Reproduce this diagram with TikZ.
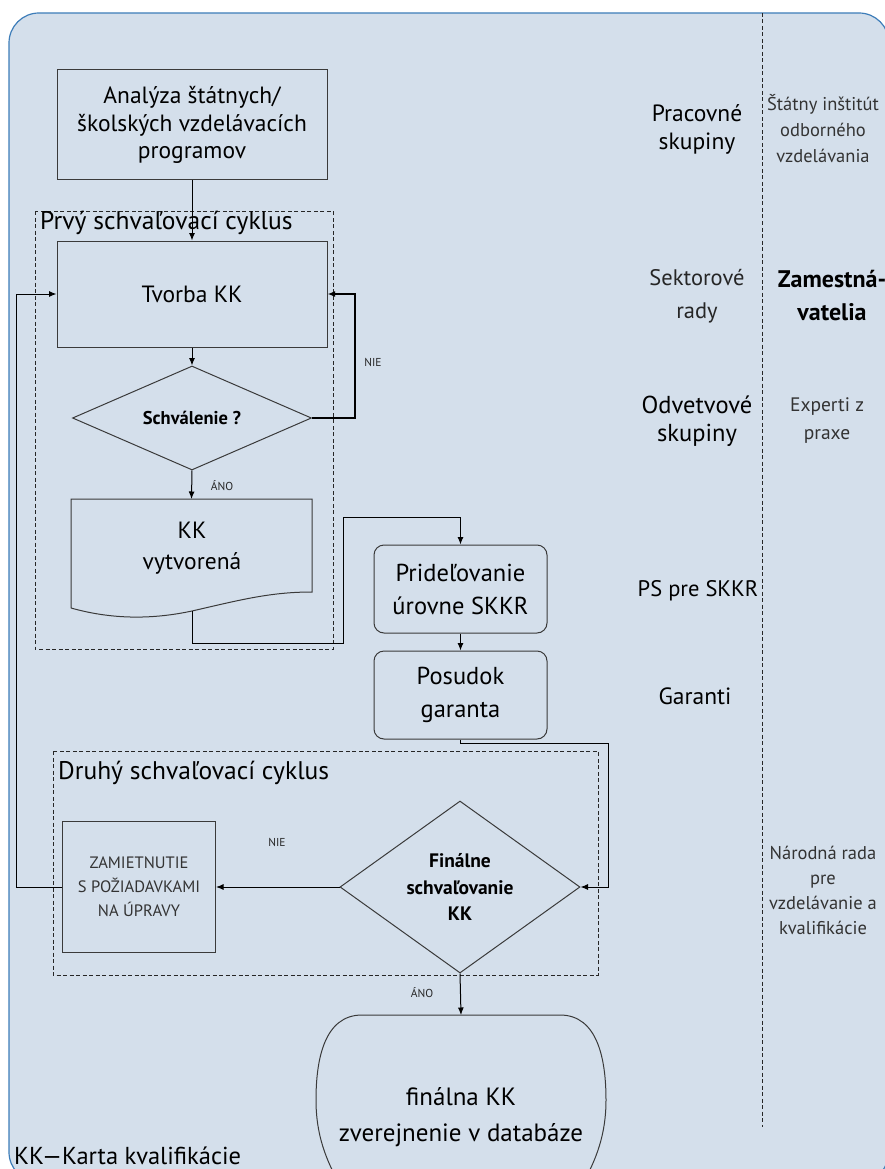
\documentclass[tikz,border=0pt]{standalone}
\usepackage{fontspec}
\setmainfont{PT Sans}
\usetikzlibrary{arrows.meta,shapes.geometric}
\definecolor{bgfill}{HTML}{D4DFEB}
\definecolor{bgline}{HTML}{3D7DB9}
\definecolor{shapeink}{HTML}{3A3A3A}
\definecolor{lightink}{HTML}{333333}
\begin{document}
\begin{tikzpicture}[x=1pt,y=-1pt,
  shapeline/.style={draw=shapeink, line width=1pt},
  box/.style={shapeline, inner sep=2pt, align=center, font=\fontsize{23.5}{27.5}\selectfont},
  rbox/.style={box, rounded corners=10pt, minimum width=173pt, minimum height=88pt, font=\fontsize{24.5}{33}\selectfont},
  dia/.style={shapeline, diamond, inner sep=0pt, align=center},
  frame/.style={draw=black!85, line width=0.8pt, dash pattern=on 4pt off 2.5pt},
  conn/.style={draw=black, line width=1pt},
  arr/.style={conn, -{Latex[length=7.5pt,width=6pt]}},
  small/.style={font=\fontsize{11.5}{13}\selectfont, text=black!85},
  side/.style={align=center, font=\fontsize{23.5}{28}\selectfont},
  lite/.style={align=center, text=lightink, font=\fontsize{18.5}{26}\selectfont},
  ghost/.style={inner sep=0pt, outer sep=0pt}]
\useasboundingbox (0,0) rectangle (885,1169);
\begin{scope}
  \clip (0,0) rectangle (885,1169);
  \path[fill=bgfill, draw=bgline, line width=1.2pt, rounded corners=30pt] (9,13) rectangle (889,1182);
\end{scope}

% right column divider
\coordinate (vtop) at (762,13);
\coordinate (vbot) at (762,1127);
\draw[frame] (vtop) -- (vbot);

% dashed cycle frames
\draw[frame] (35,211) rectangle (333,649);
\node[anchor=west, font=\fontsize{25.5}{28}\selectfont, inner sep=0pt] (c1lab) at (40,223) {Prvý schvaľovací cyklus};
\draw[frame] (53,751) rectangle (598,975);
\node[anchor=west, font=\fontsize{25.5}{28}\selectfont, inner sep=0pt] (c2lab) at (58,773) {Druhý schvaľovací cyklus};

% first part
\node[box, minimum width=270pt, minimum height=110pt] (ana) at (192,125) {Analýza štátnych/\\školských vzdelávacích\\programov};
\node[box, minimum width=270pt, minimum height=106pt] (tvorba) at (192,294) {Tvorba KK};
\node[dia, shape aspect=2.3, minimum width=239pt, minimum height=104pt, font=\fontsize{18.5}{20}\selectfont\bfseries] (sch) at (192,418) {Schválenie ?};

% document shape
\draw[shapeline] (71,608) -- (71,499) -- (312,499) -- (312,592)
  .. controls (270,592) and (240,600) .. (192,611)
  .. controls (150,620) and (110,619) .. (71,608);
\node[ghost, minimum width=241pt, minimum height=93pt] (doc) at (191.5,545.5) {};
\node[align=center, font=\fontsize{23.5}{31}\selectfont] (doctxt) at (192,548) {KK\\vytvorená};
\coordinate (docb) at (192,611);

% second part
\node[rbox] (pri) at (460.5,589) {Prideľovanie\\úrovne SKKR};
\node[rbox] (pos) at (460.5,695) {Posudok\\garanta};
\node[dia, shape aspect=1.4, minimum width=240pt, minimum height=172pt, font=\fontsize{19.5}{26.5}\selectfont\bfseries] (fin) at (460,887) {Finálne\\schvaľovanie\\KK};
\node[box, minimum width=153pt, minimum height=131pt, text=lightink, font=\fontsize{16.5}{24}\selectfont] (zam) at (139,887) {ZAMIETNUTIE\\S POŽIADAVKAMI\\NA ÚPRAVY};

% terminal
\draw[shapeline] (340,1185) .. controls (326,1160) and (316,1135) .. (316,1100)
  .. controls (316,1060) and (324,1015) .. (362,1015) -- (560,1015)
  .. controls (598,1015) and (606,1060) .. (606,1100)
  .. controls (606,1135) and (596,1160) .. (582,1185);
\node[ghost, minimum width=290pt, minimum height=170pt] (term) at (461,1100) {};
\node[align=center, font=\fontsize{25}{36}\selectfont] (termtxt) at (461,1117) {finálna KK\\zverejnenie v databáze};

% connectors
\draw[arr] (ana) -- (tvorba);
\draw[arr] (tvorba) -- (sch);
\draw[arr, line width=1.8pt] (sch.east) -- ++(43,0) |- (tvorba.east);
\node[small] (nie1) at (373,362) {NIE};
\draw[arr] (sch.south) -- (doc.north);
\node[small] (ano1) at (222,486) {ÁNO};
\draw[arr] (docb) -- ++(0,32) -- ++(151,0) -- ++(0,-126) -| (pri.north);
\draw[arr] (pri) -- (pos);
\draw[arr] (pos.south) -- ++(0,4) -| ([xshift=28pt]fin.east) -- (fin.east);
\draw[arr] (fin.west) -- (zam.east);
\node[small] (nie2) at (277,842) {NIE};
\draw[arr] (zam.west) -- ++(-46,0) |- (tvorba.west);
\draw[arr] (fin.south) -- (term.north);
\node[small] (ano2) at (422,993) {ÁNO};

% right column labels
\node[side] (l1) at (697,129) {Pracovné\\skupiny};
\node[lite] (r1) at (823,129) {Štátny inštitút\\odborného\\vzdelávania};
\node[side, text=black!85, font=\fontsize{22.5}{33}\selectfont] (l2) at (697,296) {Sektorové\\rady};
\node[side, font=\fontsize{24}{33}\selectfont\bfseries] (r2) at (832,296) {Zamestná-\\vatelia};
\node[side, font=\fontsize{24.5}{28}\selectfont] (l3) at (697,421) {Odvetvové\\skupiny};
\node[lite, font=\fontsize{19.5}{28}\selectfont] (r3) at (827,421) {Experti z\\praxe};
\node[side, font=\fontsize{22.5}{24}\selectfont] (l4) at (698,591) {PS pre SKKR};
\node[side, font=\fontsize{23.5}{24}\selectfont] (l5) at (695,696) {Garanti};
\node[lite, font=\fontsize{18.5}{25}\selectfont] (r4) at (823,890) {Národná rada\\pre\\vzdelávanie a\\kvalifikácie};

% footnote
\node[anchor=base west, inner sep=0pt, font=\fontsize{24.5}{26}\selectfont] (foot) at (14,1164) {KK—Karta kvalifikácie};
\end{tikzpicture}
\end{document}
